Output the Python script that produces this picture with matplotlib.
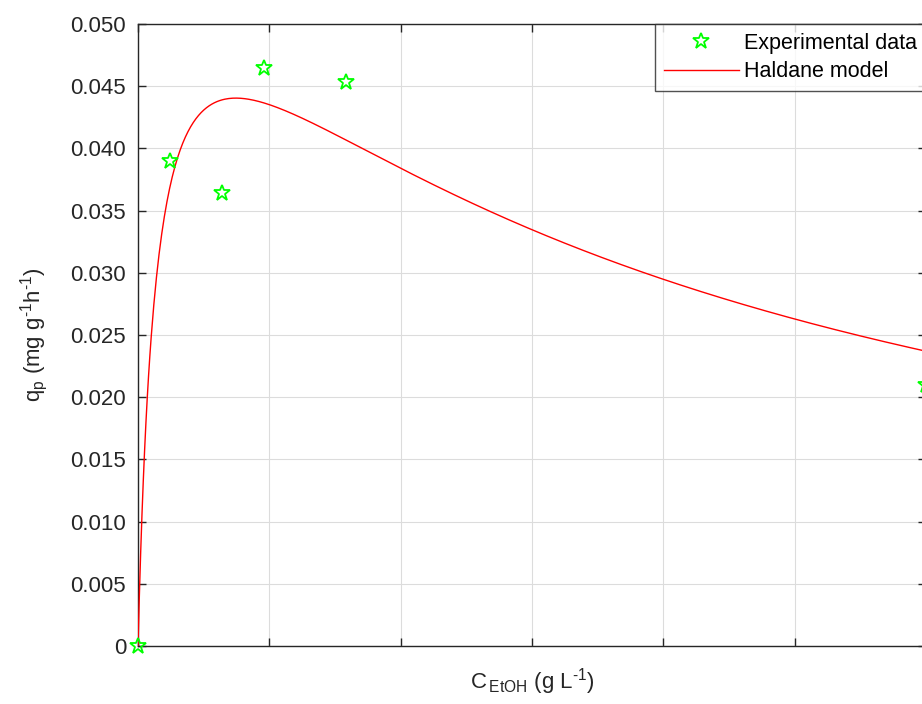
import numpy as np
import matplotlib.pyplot as plt

plt.rcParams['font.family'] = ['Liberation Sans', 'DejaVu Sans']

# measured ethanol concentration (g/L) and specific production rate
c_etoh = [0.0, 2.4, 6.4, 9.6, 15.8, 60.0]
q_p = [0.0, 0.0390, 0.0364, 0.0465, 0.0453, 0.0210]

# fitted Haldane parameters
q_max = 0.0610
K_s = 1.434
K_i = 38.7

x_ticks = [0, 10, 20, 30, 40, 50, 60]
y_ticks = np.arange(0, 0.0501, 0.005)

s = np.linspace(0, 60, 600)
q_model = q_max * s / (K_s + s + s**2 / K_i)

fig = plt.figure(figsize=(9.22, 7.04), dpi=100)
ax = fig.add_axes([0.1497, 0.0824, 0.8547, 0.8835])

ax.plot(c_etoh, q_p, linestyle='none', marker='*', markersize=12,
        markerfacecolor='none', markeredgecolor='#00ff00', markeredgewidth=1.3,
        clip_on=False, zorder=4, label='Experimental data')
ax.plot(s, q_model, color='#ff0000', linewidth=1.0, label='Haldane model', zorder=3)

ax.set_xlim(0, 60)
ax.set_ylim(0, 0.05)
ax.set_xticks(x_ticks)
ax.set_xticklabels([])
ax.set_yticks(y_ticks)
ax.set_yticklabels([f'{v:.3f}' if v > 0 else '0' for v in y_ticks])

ax.grid(True, color='#dcdcdc', linewidth=0.8)
ax.set_axisbelow(True)
ax.tick_params(direction='in', length=6, width=1.0, colors='#262626',
               labelsize=16, top=True, right=True, pad=8.5)
for sp in ax.spines.values():
    sp.set_color('#262626')
    sp.set_linewidth(1.0)

ax.set_xlabel('C$_{\\mathregular{\\,EtOH}}$ (g L$^{\\mathregular{\u20101}}$)', fontsize=16,
              color='#262626')
ax.set_ylabel('q$_{\\mathregular{p}}$ (mg g$^{\\mathregular{\u20101}}$h$^{\\mathregular{\u20101}}$)',
              fontsize=16, color='#262626')
ax.xaxis.set_label_coords(0.5, -0.033)
ax.yaxis.set_label_coords(-0.112, 0.5)

leg = ax.legend(loc='upper right', bbox_to_anchor=(1.0, 1.0), fontsize=15.5,
                frameon=True, fancybox=False, edgecolor='#262626',
                borderaxespad=0, handlelength=3.5, borderpad=0.4,
                labelspacing=0.35, handletextpad=0.25)
leg.get_frame().set_linewidth(1.0)

fig.savefig('out.png', dpi=100)
